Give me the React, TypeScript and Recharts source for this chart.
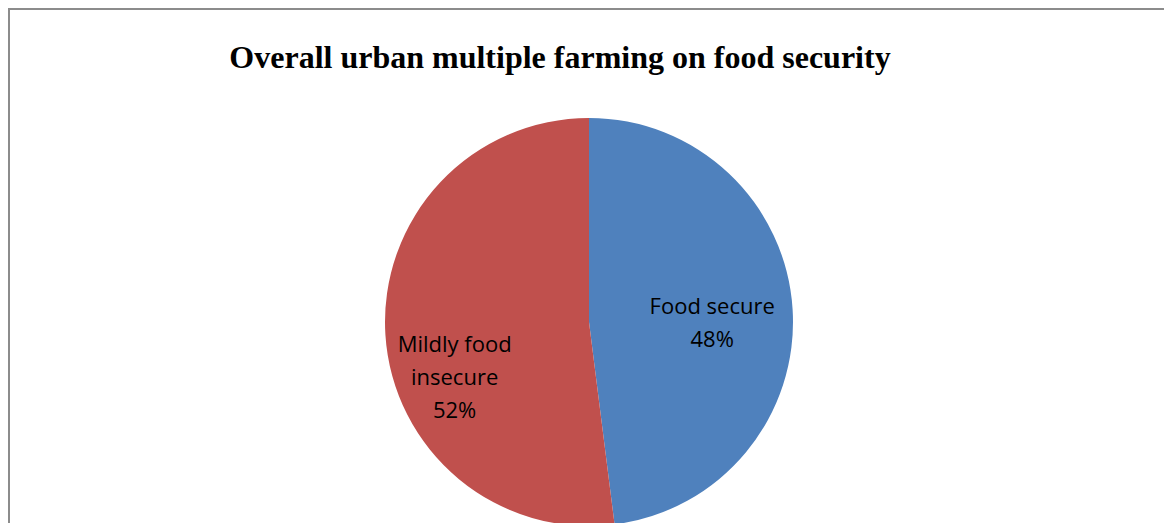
import { PieChart, Pie, Cell } from 'recharts'

const categories = ['Food secure', 'Mildly food insecure']
const shares = [48, 52]
const colors = ['#4F81BD', '#C0504D']
// label lines as shown inside each slice
const labelLines = [['Food secure', '48%'], ['Mildly food', 'insecure', '52%']]

const data = categories.map((name, i) => ({ name, value: shares[i] }))

const RAD = Math.PI / 180

function SliceLabel(props: any) {
  const { cx, cy, midAngle, outerRadius, index } = props
  const r = outerRadius * (index === 0 ? 0.605 : 0.66)
  const x = cx + r * Math.cos(-midAngle * RAD)
  const yMid = cy + r * Math.sin(-midAngle * RAD) + (index === 0 ? 7 : 46)
  const lines = labelLines[index]
  const lh = 33
  const top = yMid - ((lines.length - 1) * lh) / 2
  return (
    <text
      x={x}
      y={top}
      textAnchor="middle"
      dominantBaseline="central"
      fill="#000"
      style={{ fontFamily: '"Open Sans", sans-serif', fontSize: 22 }}
    >
      {lines.map((l, i) => (
        <tspan key={i} x={x} y={top + i * lh}>{l}</tspan>
      ))}
    </text>
  )
}

export default function App() {
  return (
    <div style={{ position: 'fixed', left: 0, top: 0, width: 1164, height: 523, background: '#fff', overflow: 'hidden' }}>
      <div
        style={{
          position: 'absolute', left: 8, top: 8, width: 1200, height: 600,
          borderLeft: '2px solid #8c8c8c', borderTop: '2px solid #8c8c8c'
        }}
      />
      <div
        style={{
          position: 'absolute', left: 0, width: 1120, top: 41, lineHeight: '32px', textAlign: 'center',
          fontFamily: '"Liberation Serif", "Times New Roman", serif', fontWeight: 'bold', fontSize: 32, color: '#000'
        }}
      >
        Overall urban multiple farming on food security
      </div>
      <div style={{ position: 'absolute', left: 0, top: 0 }}>
        <PieChart width={1164} height={523}>
          <Pie
            data={data}
            dataKey="value"
            nameKey="name"
            cx={584}
            cy={317}
            outerRadius={204}
            startAngle={90}
            endAngle={-270}
            stroke="none"
            label={SliceLabel}
            labelLine={false}
            isAnimationActive={false}
          >
            {data.map((d, i) => (
              <Cell key={d.name} fill={colors[i]} />
            ))}
          </Pie>
        </PieChart>
      </div>
    </div>
  )
}
